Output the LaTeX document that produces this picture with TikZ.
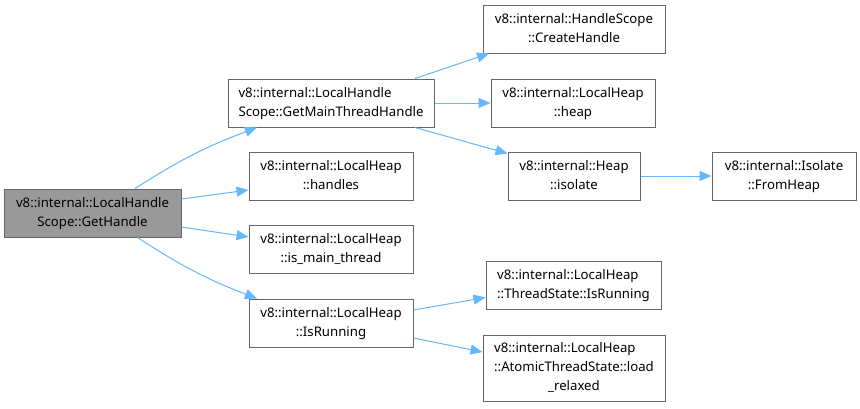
\documentclass[tikz,border=0pt]{standalone}
\usepackage{fontspec}
\setmainfont{Noto Sans}
\usetikzlibrary{arrows.meta}
\definecolor{edgec}{HTML}{63B8FF}
\definecolor{boxc}{HTML}{666666}
\definecolor{fillc}{HTML}{999999}
\newcommand{\lblB}[2]{\begin{tabular}{@{}l@{}}#1\\\multicolumn{1}{@{}c@{}}{#2}\end{tabular}}
\newcommand{\lblC}[3]{\begin{tabular}{@{}l@{}}#1\\#2\\\multicolumn{1}{@{}c@{}}{#3}\end{tabular}}
\tikzset{
  fbox/.style={draw=boxc, line width=1pt, fill=white, inner sep=0pt, minimum height=48pt,
    font=\fontsize{13.2}{19}\selectfont, text=black},
  mainbox/.style={fbox, fill=fillc},
  edge/.style={draw=edgec, line width=1pt, -{Triangle[length=12pt,width=10pt]}},
}
\begin{document}
\begin{tikzpicture}[x=1pt,y=-1pt]
\useasboundingbox (0,0) rectangle (860,408);
\fill[white] (0,0) rectangle (860,408);
\node[mainbox, minimum width=177pt] (gh) at (92.5,213) {\lblB{v8::internal::LocalHandle}{Scope::GetHandle}};
\node[fbox, minimum width=206pt] (gmth) at (331,103) {\lblB{v8::internal::LocalHandle}{Scope::GetMainThreadHandle}};
\node[fbox, minimum width=182pt] (ch) at (574,29) {\lblB{v8::internal::HandleScope}{::CreateHandle}};
\node[fbox, minimum width=164pt] (heap) at (573,103) {\lblB{v8::internal::LocalHeap}{::heap}};
\node[fbox, minimum width=132pt] (hiso) at (574,176) {\lblB{v8::internal::Heap}{::isolate}};
\node[fbox, minimum width=144pt] (ifh) at (784,176) {\lblB{v8::internal::Isolate}{::FromHeap}};
\node[fbox, minimum width=164pt] (hand) at (331,176) {\lblB{v8::internal::LocalHeap}{::handles}};
\node[fbox, minimum width=164pt] (imt) at (331,249) {\lblB{v8::internal::LocalHeap}{::is\_main\_thread}};
\node[fbox, minimum width=164pt] (isr) at (331,323) {\lblB{v8::internal::LocalHeap}{::IsRunning}};
\node[fbox, minimum width=175pt] (tsr) at (573.5,285.5) {\lblB{v8::internal::LocalHeap}{::ThreadState::IsRunning}};
\node[fbox, minimum width=182pt, minimum height=66pt] (lr) at (574,368) {\lblC{v8::internal::LocalHeap}{::AtomicThreadState::load}{\_relaxed}};

\draw[edge] ([xshift=42.5pt]gh.north) to[bend left=6] ([xshift=-74pt]gmth.south);
\draw[edge] ([yshift=14pt]gh.east) -- ([yshift=-14pt]hand.west);
\draw[edge] ([yshift=-14pt]gh.east) -- ([yshift=12pt]imt.west);
\draw[edge] ([xshift=45pt]gh.south) to[bend right=6] ([xshift=-74pt]isr.north);
\draw[edge] ([xshift=84pt]gmth.north) -- ([xshift=-85pt]ch.south);
\draw[edge] (gmth.east) -- (heap.west);
\draw[edge] ([xshift=84pt]gmth.south) -- ([yshift=-2pt]hiso.north west);
\draw[edge] (hiso.east) -- (ifh.west);
\draw[edge] ([yshift=13pt]isr.east) -- ([yshift=-12pt]tsr.west);
\draw[edge] ([yshift=-15pt]isr.east) -- ([yshift=16pt]lr.west);
\end{tikzpicture}
\end{document}
